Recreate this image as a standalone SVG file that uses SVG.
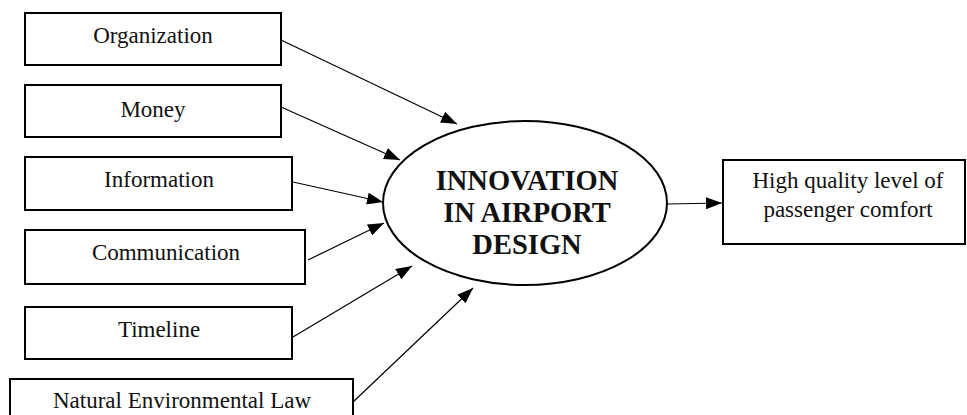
<svg xmlns="http://www.w3.org/2000/svg" width="967" height="415" viewBox="0 0 967 415">
<style>
.box{fill:#fff;stroke:#000;stroke-width:2}
.lbl{font-family:"Liberation Serif","Times New Roman",serif;font-size:23px;fill:#111;text-anchor:middle}
.big{font-family:"Liberation Serif","Times New Roman",serif;font-size:28.5px;font-weight:bold;fill:#111;text-anchor:middle}
.conn line{stroke:#000;stroke-width:1.2;marker-end:url(#ah)}
</style>
<defs>
<marker id="ah" markerUnits="userSpaceOnUse" markerWidth="17" markerHeight="12" refX="16" refY="6" orient="auto">
<path d="M0,0 L16,6 L0,12 z" fill="#000"/>
</marker>
</defs>
<rect width="967" height="415" fill="#fff"/>
<g id="organization"><rect class="box" x="25" y="13" width="256" height="52"/><text class="lbl" x="153" y="43">Organization</text></g>
<g id="money"><rect class="box" x="25" y="85" width="256" height="52"/><text class="lbl" x="153" y="117">Money</text></g>
<g id="information"><rect class="box" x="25" y="157" width="267" height="53"/><text class="lbl" x="159" y="187">Information</text></g>
<g id="communication"><rect class="box" x="25" y="230" width="280" height="54"/><text class="lbl" x="166" y="260">Communication</text></g>
<g id="timeline"><rect class="box" x="25" y="307" width="267" height="52"/><text class="lbl" x="159" y="337">Timeline</text></g>
<g id="natural-law"><rect class="box" x="10" y="379" width="343" height="45"/><text class="lbl" x="182" y="408">Natural Environmental Law</text></g>
<g id="innovation"><ellipse cx="525" cy="203" rx="142" ry="82" fill="#fff" stroke="#000" stroke-width="2"/>
<text class="big" x="527" y="190">INNOVATION</text><text class="big" x="527" y="222">IN AIRPORT</text><text class="big" x="527" y="254">DESIGN</text></g>
<g id="comfort"><rect class="box" x="723" y="160" width="242" height="84"/><text class="lbl" x="848" y="188">High quality level of</text><text class="lbl" x="848" y="217">passenger comfort</text></g>
<g id="connectors" class="conn">
<line x1="281" y1="40" x2="457" y2="124"/>
<line x1="281" y1="107" x2="400" y2="160"/>
<line x1="293" y1="182" x2="383" y2="202"/>
<line x1="308" y1="260" x2="384" y2="223"/>
<line x1="293" y1="337" x2="412" y2="266"/>
<line x1="353" y1="402" x2="473" y2="288"/>
<line x1="667" y1="204" x2="722" y2="203"/>
</g>
</svg>
